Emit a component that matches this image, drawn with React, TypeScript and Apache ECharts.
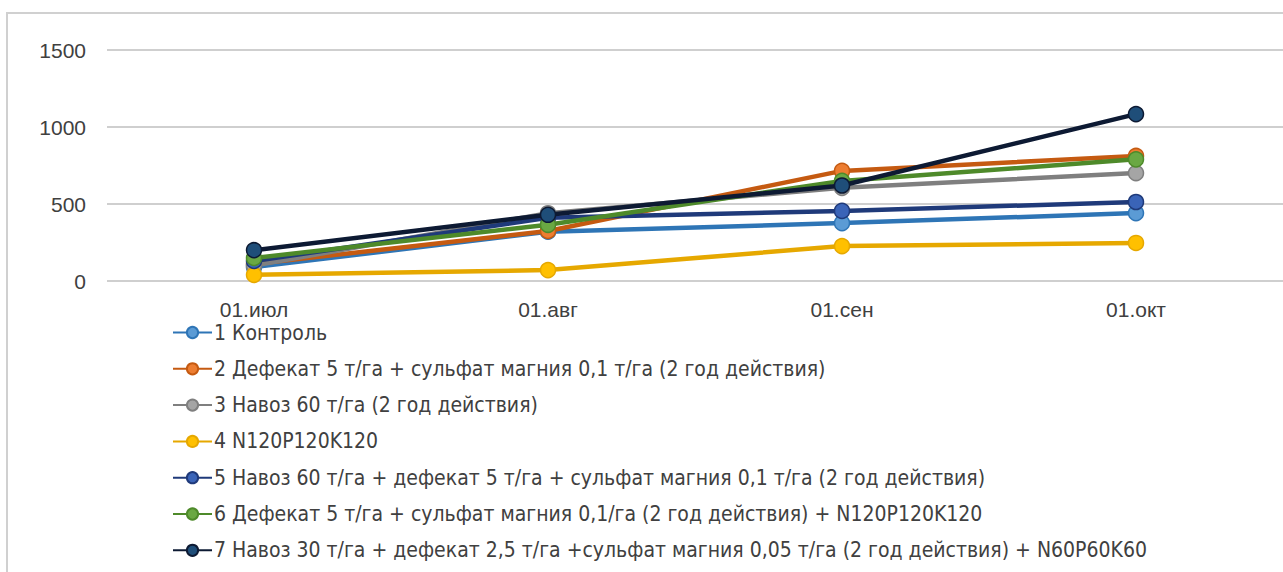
import React, { useEffect, useRef } from "react";
import * as echarts from "echarts";

const categories = ["01.июл", "01.авг", "01.сен", "01.окт"];
const yTicks = [0, 500, 1000, 1500];

const seriesNames = [
  "1 Контроль",
  "2 Дефекат 5 т/га + сульфат магния 0,1 т/га (2 год действия)",
  "3 Навоз 60 т/га (2 год действия)",
  "4 N120P120K120",
  "5 Навоз 60 т/га + дефекат 5 т/га + сульфат магния 0,1 т/га (2 год действия)",
  "6 Дефекат 5 т/га + сульфат магния 0,1/га (2 год действия) + N120P120K120",
  "7 Навоз 30 т/га + дефекат 2,5 т/га +сульфат магния 0,05 т/га (2 год действия) + N60P60K60",
];

const s1 = [90, 320, 376, 441];
const s2 = [110, 325, 715, 812];
const s3 = [100, 440, 605, 701];
const s4 = [40, 71, 227, 247];
const s5 = [130, 410, 455, 513];
const s6 = [150, 365, 650, 790];
const s7 = [200, 430, 620, 1084];

const seriesValues = [s1, s2, s3, s4, s5, s6, s7];
const lineColors = ["#2E75B6", "#C55A11", "#7F7F7F", "#E6A800", "#1F3A7A", "#4E8A2A", "#0D1A33"];
const markerColors = ["#5B9BD5", "#ED7D31", "#A5A5A5", "#FFC000", "#3A64B8", "#6AA843", "#1F4E79"];

export default function App() {
  const ref = useRef<HTMLDivElement>(null);
  useEffect(() => {
    document.body.style.margin = "0";
    const chart = echarts.init(ref.current!, undefined, { renderer: "svg" });
    chart.setOption({
      animation: false,
      backgroundColor: "#ffffff",
      graphic: [
        {
          type: "rect",
          shape: { x: 7, y: 13, width: 1290, height: 580 },
          style: { fill: "none", stroke: "#D0D0D0", lineWidth: 2 },
          silent: true,
        },
      ],
      grid: { left: 107, top: 50, width: 1176, height: 231, containLabel: false },
      xAxis: {
        type: "category",
        data: categories,
        boundaryGap: true,
        axisLine: { show: false },
        axisTick: { show: false },
        axisLabel: {
          color: "#404040",
          fontSize: 21,
          fontFamily: "Liberation Sans",
          margin: 18,
        },
      },
      yAxis: {
        type: "value",
        min: 0,
        max: 1500,
        interval: 500,
        axisLine: { show: false },
        axisTick: { show: false },
        splitLine: { lineStyle: { color: "#BFBFBF", width: 1.5 } },
        axisLabel: {
          color: "#404040",
          fontSize: 21,
          fontFamily: "Liberation Sans",
          margin: 21,
          formatter: (v: number) => (yTicks.includes(v) ? String(v) : ""),
        },
      },
      legend: {
        orient: "vertical",
        left: 167,
        top: 317,
        itemGap: 15.3,
        itemWidth: 39,
        itemHeight: 14,
        textStyle: {
          fontSize: 21,
          color: "#404040",
          fontFamily: "Liberation Sans Narrow, DejaVu Sans Condensed, sans-serif",
          padding: [0, 0, 0, -3],
        },
        data: seriesNames,
      },
      series: seriesNames.map((name, i) => ({
        name,
        type: "line",
        data: seriesValues[i],
        symbol: "circle",
        symbolSize: 15,
        lineStyle: { color: lineColors[i], width: 4.5 },
        itemStyle: { color: markerColors[i], borderColor: lineColors[i], borderWidth: 1.5 },
        z: 2 + i,
      })),
    });
    return () => chart.dispose();
  }, []);
  return <div ref={ref} style={{ width: 1283, height: 572 }} />;
}
